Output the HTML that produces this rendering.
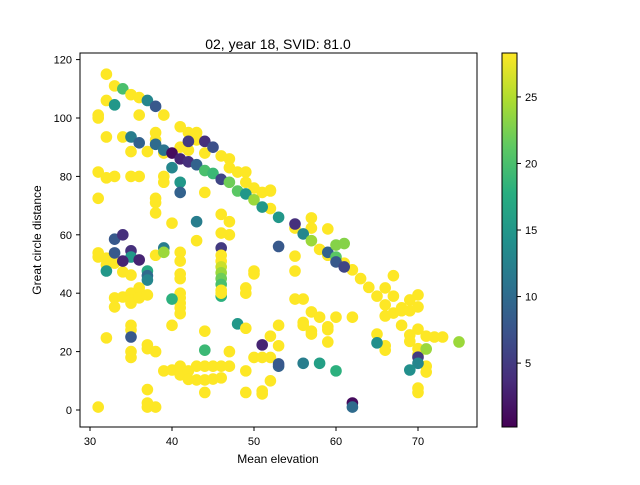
<!DOCTYPE html>
<html><head><meta charset="utf-8"><style>
body{margin:0;background:#fff;}
svg text{font-family:"Liberation Sans",sans-serif;fill:#000;}
</style></head><body>
<svg id="chart" width="640" height="480" xmlns="http://www.w3.org/2000/svg">
<defs><linearGradient id="vir" x1="0" y1="1" x2="0" y2="0">
<stop offset="0" stop-color="#440154"/><stop offset="0.125" stop-color="#472d7b"/><stop offset="0.25" stop-color="#3b528b"/><stop offset="0.375" stop-color="#2c728e"/><stop offset="0.5" stop-color="#21918c"/><stop offset="0.625" stop-color="#28ae80"/><stop offset="0.75" stop-color="#5ec962"/><stop offset="0.875" stop-color="#addc30"/><stop offset="1" stop-color="#fde725"/></linearGradient></defs>
<text x="278" y="49" font-size="14" text-anchor="middle">02, year 18, SVID: 81.0</text>
<g id="marks"></g>
<rect x="80" y="53" width="397" height="374" fill="none" stroke="#000" stroke-width="1"/>
<g id="xt"></g><g id="yt"></g>
<text x="278" y="463" font-size="12" text-anchor="middle">Mean elevation</text>
<text transform="translate(41,240) rotate(-90)" font-size="12" text-anchor="middle">Great circle distance</text>
<rect x="502" y="53" width="15" height="374" fill="url(#vir)" stroke="#000" stroke-width="1"/>
<g id="ct"></g>
</svg>
<script>
const Y=28.3;
const xTicks=[30,40,50,60,70];
const yTicks=[0,20,40,60,80,100,120];
const cTicks=[5,10,15,20,25];
const points=[[32,115,Y],[33,111,Y],[34,110,20],[35,108,Y],[36,107,Y],[37,106,13],[38,104,8],[39,101,Y],[32,106,Y],[33,104.5,15],[31,101,Y],[31,100,Y],[36,101,Y],
[41,97,Y],[42,95,Y],[43,93,Y],[32,93.5,Y],[34,93.5,Y],[35,93.5,12],[36,91.5,9],[38,95,Y],[38,92.5,Y],[41,90,Y],[42,89,Y],[43,95,Y],[43,92.5,Y],[44,88,Y],[46,87,Y],[47,86,Y],[47,83,Y],[48,81.5,Y],[49,81.5,Y],[49,78,Y],[50,76,Y],[51,74.5,Y],[52,75,Y],[52,69,Y],[37,88.5,Y],[35,88.5,Y],[39,88,Y],[44,74.5,Y],
[38,91,10],[39,89,11],[40,88,1],[41,86,3],[42,85,4],[43,84,9],[44,82,20],[45,81,19],[46,79,6],[47,78,22],[48,75,21],[49,74,15],[50,72,24],[51,69.5,15],[53,66,15],
[42,92,5],[44,92,4],[45,90,7],[40,83,13],[41,78,15],[41,74.5,9],
[31,81.5,Y],[32,79.5,Y],[33,80,Y],[35,80,Y],[36,80,Y],[39,80,Y],[39,78,Y],[31,72.5,Y],[38,72.5,Y],[38,71,Y],[38,67.5,Y],[40,64,Y],[43,64.5,12],[46,67,Y],[47,64.5,Y],[47,60,Y],[46,60.6,Y],[43,58,Y],[33,58.5,8],[34,60,4],[53,56,8],[39,55.5,12],
[38,53,Y],[31,53.8,Y],[31,52.4,Y],[32,52,Y],[32,49.7,Y],[33,50.3,Y],[34,47.3,Y],[35,46.2,Y],[41,54,Y],[41,51,Y],[41,46.6,Y],[41,45,Y],[41,40,Y],[41,38.4,Y],[41,36.6,Y],[41,35,Y],[41,33,Y],
[33,53.8,8],[35,54.5,4],[35,52.4,15],[36,51.4,3],[34,51,3],[39,54,24],[32,47.6,15],[37,47.6,17],[37,46,10],[37,44.5,13],[46,55.5,5],
[46,53,Y],[46,51,Y],[46,49,26],[46,47,24],[46,45,22],[46,43,20],[46,39,18],[46,41,Y],[46,40,Y],
[50,47.6,Y],[50,46.6,Y],[49,41.8,Y],[49,40,Y],[33,38.4,Y],[33,35.3,Y],[34,38.7,Y],[35,40,Y],[35,37.7,Y],[35,36.6,Y],[36,41.8,Y],[36,38.4,Y],[37,39.4,Y],[40,38,18],[35,29,Y],[35,27.4,Y],[35,25,8],[32,24.7,Y],[40,29,Y],[44,27,Y],[48,29.5,15],[49,28,Y],[51,22.3,3],[53,22,Y],[53,15,9],[37,22.3,Y],[37,21,Y],[38,20,Y],[35,20,Y],[35,18,Y],[44,20.5,19],[47,20,Y],[50,18,Y],[51,18,Y],[52,18,Y],
[39,13.4,Y],[40,13.7,Y],[41,15,Y],[41,12,Y],[42,13.4,Y],[42,10.5,Y],[43,15,Y],[44,15,Y],[45,15,Y],[46,15,Y],[47,15,Y],[43,10.3,Y],[44,10.3,Y],[45,10.6,Y],[46,11,Y],[49,13.4,Y],[52,10,Y],[37,7,Y],[44,6,Y],[49,6,Y],[51,5.5,Y],[51,6.5,Y],[37,2.4,Y],[37,1,Y],[38,1,Y],[31,1,Y],
[52,75.3,Y],[55,62.3,Y],[57,65.8,Y],[57,62.3,Y],[59,62,Y],[58,55,Y],[59,53,Y],[61,50.3,Y],[62,48,Y],[63,45,Y],[64,42,Y],[65,39,Y],[66,41.8,Y],[67,46,Y],[67,39,Y],[66,36,Y],[66,32.2,Y],[67,33.2,Y],[68,34,Y],[68,35,Y],[69,37.7,Y],[69,34,Y],[70,39.4,Y],[70,35.3,Y],[68,29,Y],[70,27.7,Y],[69,25.7,Y],[69,23.5,Y],[71,25.3,Y],[72,25,Y],[73,25,Y],[70,21,Y],[70,19,Y],[71,15,Y],[71,13,Y],[70,7.5,Y],[70,6,Y],[65,26,Y],[66,22,Y],[66,20.5,Y],[53,29,Y],[52,25.3,Y],
[55,38,Y],[56,38,Y],[55,52.7,Y],[55,47.6,Y],[57,33.6,Y],[58,31.8,Y],[60,31.8,Y],[62,31.8,Y],[56,30,Y],[56,29,Y],[57,27,Y],[57,26,Y],[59,28.5,Y],[59,27.5,Y],[59,23.3,Y],
[55,63.7,4],[56,60.3,13],[57,58,24],[59,54,9],[60,56.5,23],[61,57,23],[60,52.4,21],[60,50.7,8],[61,49,6],[75,23.3,24],[70,18.1,5],[70,16,13],[71,20.9,24],[69,13.7,14],[65,23,14],[53,15.8,8],[56,16,12],[58,16,16],[60,13.4,18],[62,2.4,1],[62,1,10]];
const vmin=0.2,vmax=28.3;
const sx=x=>90+(x-30)*8.2;
const sy=y=>410-y*2.92;
const sc=v=>427-(v-vmin)/(vmax-vmin)*374;
const stops=[[68,1,84],[71,45,123],[59,82,139],[44,114,142],[33,145,140],[40,174,128],[94,201,98],[173,220,48],[253,231,37]];
function vir(v){let t=Math.max(0,Math.min(1,(v-vmin)/(vmax-vmin)))*8;let i=Math.min(7,Math.floor(t)),f=t-i;const a=stops[i],b=stops[i+1];return `rgb(${a.map((c,k)=>Math.round(c+(b[k]-c)*f)).join(',')})`;}
const NS="http://www.w3.org/2000/svg";
function mk(tag,attrs,parent){const e=document.createElementNS(NS,tag);for(const k in attrs)e.setAttribute(k,attrs[k]);parent.appendChild(e);return e;}
const g=document.getElementById('marks');
points.forEach(p=>{const c=mk('circle',{cx:sx(p[0]),cy:sy(p[1]),r:5.8,fill:vir(p[2])},g);

});
const xt=document.getElementById('xt');
xTicks.forEach(v=>{const x=sx(v);mk('line',{x1:x,x2:x,y1:427,y2:431,stroke:'#000'},xt);
const t=mk('text',{x:x,y:445,'font-size':11,'text-anchor':'middle'},xt);t.textContent=v;

});
const yt=document.getElementById('yt');
yTicks.forEach(v=>{const y=sy(v);mk('line',{x1:76,x2:80,y1:y,y2:y,stroke:'#000'},yt);
const t=mk('text',{x:72,y:y+4,'font-size':11,'text-anchor':'end'},yt);t.textContent=v;

});
const ct=document.getElementById('ct');
cTicks.forEach(v=>{const y=sc(v);mk('line',{x1:517,x2:521,y1:y,y2:y,stroke:'#000'},ct);
const t=mk('text',{x:525,y:y+4,'font-size':11},ct);t.textContent=v;

});
</script>
</body></html>
